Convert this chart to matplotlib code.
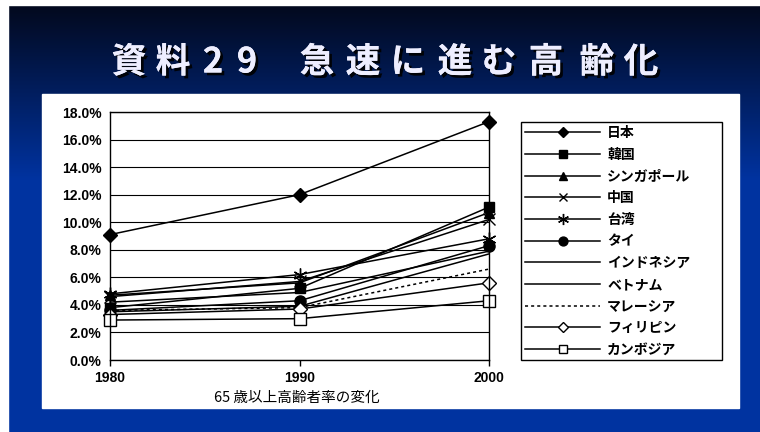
import numpy as np
import matplotlib
matplotlib.use("Agg")
import matplotlib.pyplot as plt
import matplotlib.patheffects as pe
from matplotlib.patches import Rectangle

plt.rcParams['font.family'] = ['Noto Sans CJK JP', 'DejaVu Sans']

years = [1980, 1990, 2000]
japan = [9.1, 12.0, 17.3]
korea = [3.8, 5.2, 11.1]
singapore = [4.7, 5.6, 10.7]
china = [4.6, 5.7, 10.2]
taiwan = [4.8, 6.2, 8.8]
thai = [3.6, 4.3, 8.3]
indonesia = [3.5, 3.9, 7.7]
vietnam = [4.2, 4.9, 7.9]
malaysia = [3.6, 3.8, 6.6]
philippines = [3.3, 3.7, 5.6]
cambodia = [2.9, 3.0, 4.3]

labels = ["日本", "韓国", "シンガポール", "中国", "台湾", "タイ",
          "インドネシア", "ベトナム", "マレーシア", "フィリピン", "カンボジア"]
series = [japan, korea, singapore, china, taiwan, thai,
          indonesia, vietnam, malaysia, philippines, cambodia]
yticks = [0, 2, 4, 6, 8, 10, 12, 14, 16, 18]

# marker, size, face colour, line style
styles = [
    ("D", 7, "black", "-"),
    ("s", 7, "black", "-"),
    ("^", 7, "black", "-"),
    ("x", 8, "black", "-"),
    ((6, 2, 0), 10, "black", "-"),
    ("o", 8, "black", "-"),
    (None, 0, "black", "-"),
    (None, 0, "black", "-"),
    (None, 0, "black", (0, (2, 2))),
    ("D", 7, "white", "-"),
    ("s", 8, "white", "-"),
]

W, H = 760, 432
fig = plt.figure(figsize=(W / 100, H / 100), dpi=100)

# slide background
bg = fig.add_axes([0, 0, 1, 1])
rows = np.clip(np.arange(H) / 180.0, 0, 1)[:, None]
top = np.array([0.01, 0.03, 0.10])
bot = np.array([0.0, 0.20, 0.63])
grad = top + (bot - top) * rows
img = np.repeat(grad[:, None, :], W, axis=1)
bg.imshow(img, extent=(0, W, H, 0), aspect="auto")
bg.add_patch(Rectangle((0, 0), 8, H, color="white"))
bg.add_patch(Rectangle((0, 0), W, 5, color="white"))
bg.add_patch(Rectangle((42, 94), 697, 314, color="white"))
# legend box
bg.add_patch(Rectangle((521, 122), 201, 238, facecolor="none", edgecolor="black", lw=1.0))
bg.set_xlim(0, W)
bg.set_ylim(H, 0)
bg.axis("off")

# title
title_chars = ["資", "料", "2", "9", "急", "速", "に", "進", "む", "高", "齢", "化"]
title_x = [129, 173, 213, 247, 317, 363, 408, 455, 499, 546, 597, 641]
for ch, x in zip(title_chars, title_x):
    fig.text(x / W, 1 - 62 / H, ch, ha="center", va="center", fontsize=25,
             fontweight="bold", color="#eeeeff",
             path_effects=[pe.withSimplePatchShadow(offset=(2, -2), shadow_rgbFace="black", alpha=0.9),
                           pe.Normal()])

# chart
ax = fig.add_axes([110 / W, 1 - 360 / H, 379 / W, 248 / H])
ax.set_facecolor("white")
handles = []
for vals, lab, (m, ms, fc, ls) in zip(series, labels, styles):
    line, = ax.plot(years, vals, color="black", lw=1.1, linestyle=ls,
                    marker=m, markersize=ms, markerfacecolor=fc,
                    markeredgecolor="black", markeredgewidth=1.0, clip_on=False)
    handles.append(line)

ax.set_xlim(1980, 2000)
ax.set_ylim(0, 18)
ax.set_yticks(yticks)
ax.set_yticklabels([f"{v:.1f}%" for v in yticks], fontfamily="Liberation Sans",
                   fontweight="bold", fontsize=10)
ax.set_xticks(years)
ax.set_xticklabels([str(y) for y in years], fontfamily="Liberation Sans",
                   fontweight="bold", fontsize=10)
ax.tick_params(axis="y", length=0, pad=6)
ax.tick_params(axis="x", length=4, pad=4, width=1)
ax.grid(axis="y", color="black", lw=0.8)
ax.set_axisbelow(True)
for s in ax.spines.values():
    s.set_linewidth(1.0)
    s.set_color("black")

fig.text(297 / W, 1 - 398 / H, "65 歳以上高齢者率の変化", ha="center", va="center",
         fontsize=10.5, color="black")

leg = fig.legend(handles, labels, loc="upper left",
                 bbox_to_anchor=(519 / W, 1 - 120 / H), borderaxespad=0,
                 fontsize=10, handlelength=5.4, handletextpad=0.5, markerscale=0.8,
                 labelspacing=0.55, borderpad=0.45, frameon=False)
for t in leg.get_texts():
    t.set_fontweight("bold")

fig.savefig("out.png", dpi=100)
